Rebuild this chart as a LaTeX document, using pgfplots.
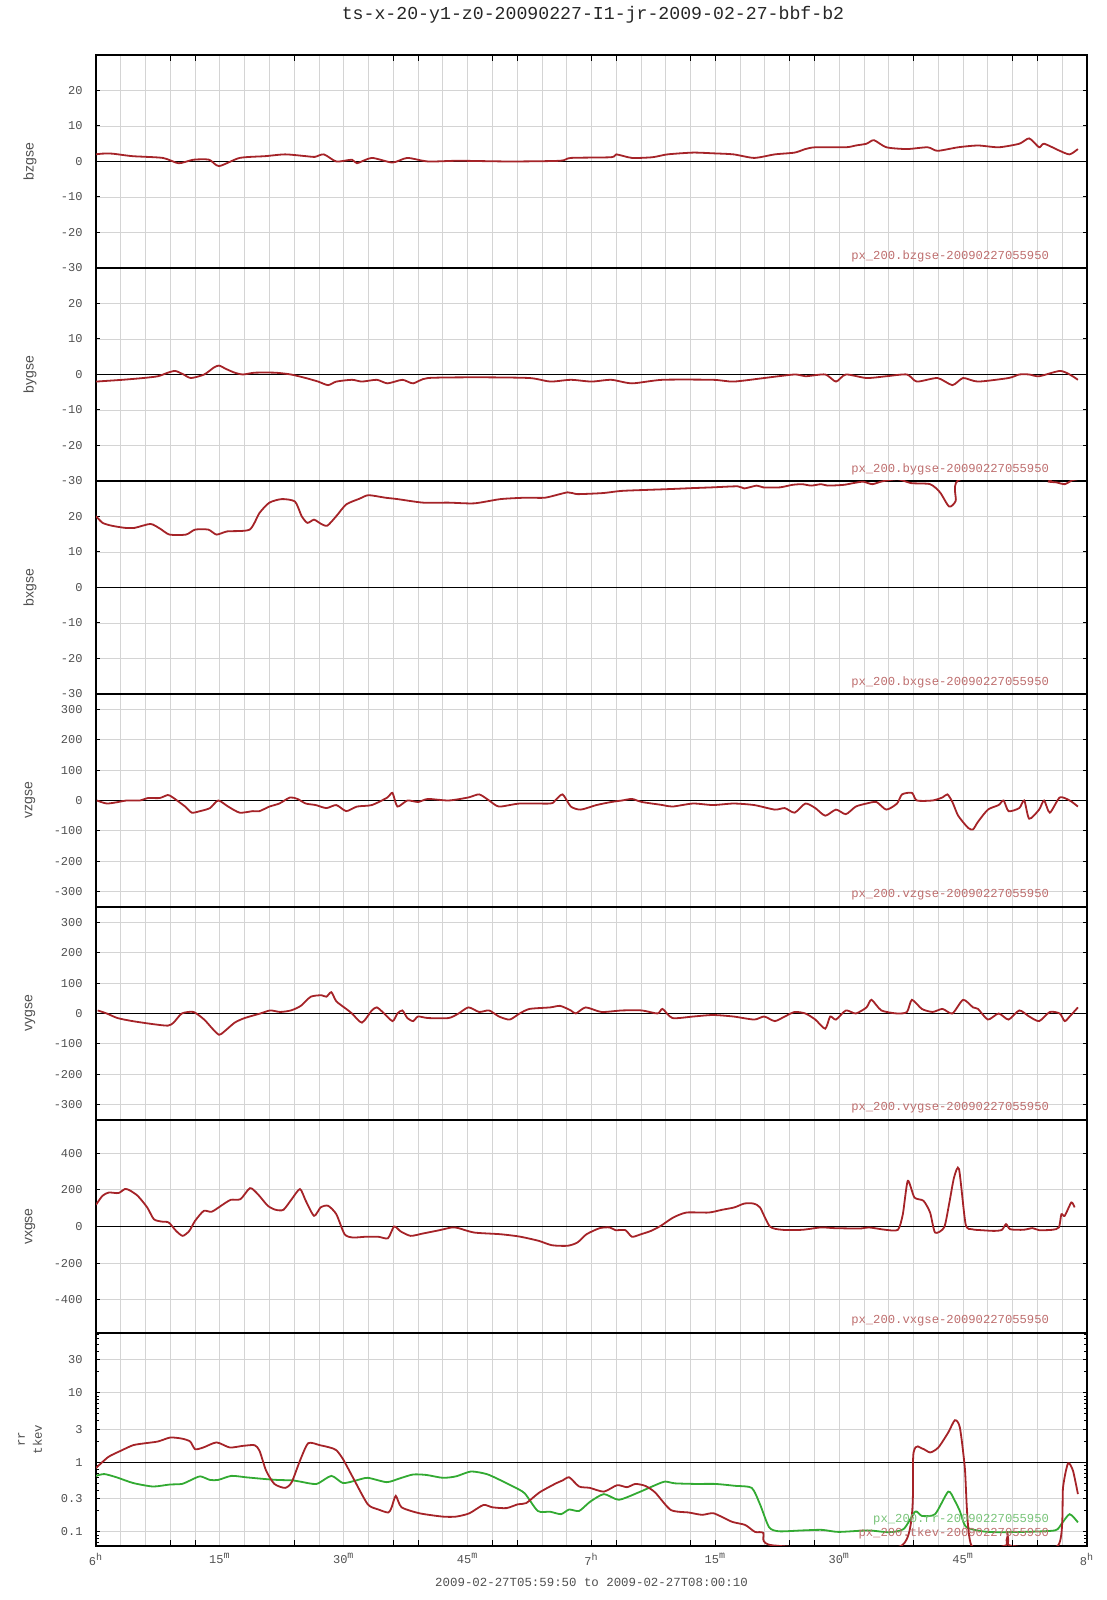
\documentclass[border=0pt]{standalone}
\usepackage{pgfplots}
\pgfplotsset{compat=1.18}
\usepackage{fontspec}
\newfontfamily\mono{Liberation Mono}
\newfontfamily\sans{Liberation Sans}
\definecolor{cred}{RGB}{165,35,40}
\definecolor{cgreen}{RGB}{50,170,50}
\definecolor{lred}{RGB}{190,110,110}
\definecolor{lgreen}{RGB}{120,195,120}
\definecolor{gridgray}{RGB}{212,212,212}
\definecolor{tickgray}{RGB}{80,80,80}
\pgfplotsset{
 panel/.style={
  scale only axis, width=495.5pt, height=106.5pt, anchor=north west,
  xmin=0, xmax=120, xtick={0,3,...,120}, xticklabels={},
  xtick style={draw=none},
  major tick length=2pt,
  tick style={black, line width=0.5pt},
  xmajorgrids, ymajorgrids,
  major grid style={draw=gridgray, line width=0.45pt},
  axis line style={black, line width=0.6pt},
  yticklabel style={font=\mono\fontsize{6}{7}\selectfont, text=tickgray, inner sep=0pt, xshift=-6.5pt},
  ylabel style={font=\sans\fontsize{7}{8}\selectfont, text=tickgray, at={(axis description cs:-0.0666,0.5)}, anchor=center},
 },
 lin30/.style={ymin=-30, ymax=30, ytick={-30,-20,-10,0,10,20}, yticklabels={-30,-20,-10,0,10,20}},
 lin350/.style={ymin=-350, ymax=350, ytick={-300,-200,-100,0,100,200,300}, yticklabels={-300,-200,-100,0,100,200,300}},
 dline/.style={cred, line width=0.9pt, smooth, tension=0.4},
 zline/.style={black, line width=0.55pt},
}
\newcommand{\leg}[3]{\node[anchor=east, inner sep=0pt, font=\mono\fontsize{6.1}{7}\selectfont, text=#1] at (axis description cs:0.962,#2) {#3};}
\begin{document}
\begin{tikzpicture}
\useasboundingbox (0,0) rectangle (553.5pt,800pt);
\node[font=\mono\fontsize{9.1}{10}\selectfont, text=black!85] at (296.5pt,792.5pt) {ts-x-20-y1-z0-20090227-I1-jr-2009-02-27-bbf-b2};

% panel 1 bzgse
\begin{axis}[panel, lin30, at={(48pt,772.5pt)}, ylabel={bzgse}]
\addplot[zline] coordinates {(0,0) (120,0)};
\addplot[dline] coordinates {(0,2.0)(0.7,2.2)(2.0,2.2)(4.4,1.5)(8.1,1.0)(10.0,-0.5)(11.8,0.5)(13.7,0.5)(14.9,-1.3)(17.4,1.0)(20.5,1.5)(22.9,2.0)(25.4,1.5)(26.5,1.3)(27.6,2.0)(29.1,0)(31.0,0.5)(31.6,-0.5)(33.4,1.0)(35.9,-0.3)(37.7,1.0)(40.2,0)(43.9,0.2)(50.1,0)(56.2,0.2)(57.5,1.0)(62.4,1.2)(63.0,2.0)(64.9,1.0)(67.4,1.2)(69.2,2.0)(72.3,2.5)(74.7,2.3)(77.2,2.0)(79.7,1.0)(82.2,2.0)(84.6,2.5)(85.9,3.5)(87.1,4.0)(90.8,4.0)(92.0,4.5)(93.3,5.0)(94.2,6.0)(95.7,4.0)(98.2,3.5)(100.7,4.0)(101.9,3.0)(104.4,4.0)(106.8,4.5)(109.3,4.0)(111.8,5.0)(113.0,6.5)(114.2,4.0)(114.8,5.0)(116.7,3.0)(117.9,2.0)(118.9,3.5)};
\pgfplotsinvokeforeach{0,9,12,24,36,39,48,51,60,63,72,75,84,87,99,111,114}{\draw[black, line width=0.5pt] (axis cs:#1,30) -- ++(0pt,-2.8pt);}
\leg{lred}{0.056}{px\_200.bzgse-20090227055950}
\end{axis}

% panel 2 bygse
\begin{axis}[panel, lin30, at={(48pt,666pt)}, ylabel={bygse}]
\addplot[zline] coordinates {(0,0) (120,0)};
\addplot[dline] coordinates {(0,-2)(3.2,-1.5)(5.7,-1)(7.5,-0.5)(8.7,0.5)(9.6,1)(10.6,0)(11.5,-1)(13.1,0)(14.3,2)(14.9,2.5)(15.8,1.5)(16.8,0.5)(17.8,0)(19.2,0.5)(21.7,0.5)(23.6,0)(25.4,-1)(26.9,-2)(28.1,-3)(29.1,-2)(31,-1.5)(32.2,-2)(34,-1.5)(35.3,-2.5)(37.1,-1.5)(38.4,-2.5)(40.2,-1)(46.4,-0.8)(52.5,-1)(55,-2)(57.5,-1.5)(60,-2)(62.4,-1.5)(64.9,-2.5)(68.6,-1.5)(74.7,-1.5)(77.2,-2)(80.9,-1)(84.6,0)(85.9,-0.5)(88.3,0)(89.6,-2)(90.8,0)(93.3,-1)(95.7,-0.5)(98.2,0)(99.4,-2)(101.9,-1)(103.7,-3)(105,-1)(106.8,-2)(110.5,-1)(111.8,0)(113,0)(114.2,-0.5)(116.7,1)(117.9,0)(118.9,-1.5)};
\leg{lred}{0.056}{px\_200.bygse-20090227055950}
\end{axis}

% panel 3 bxgse
\begin{axis}[panel, lin30, at={(48pt,559.5pt)}, ylabel={bxgse}]
\addplot[zline] coordinates {(0,0) (120,0)};
\addplot[dline] coordinates {(0,20.1)(0.8,18.2)(1.9,17.4)(3.5,16.8)(4.7,16.8)(6.6,17.9)(7.8,16.5)(8.9,14.9)(10.9,14.9)(12.0,16.3)(13.6,16.3)(14.6,14.9)(15.9,15.8)(18.6,16.3)(19.8,21.0)(21,23.9)(22.5,24.9)(24.1,24.2)(24.9,20.1)(25.6,18.2)(26.4,19.1)(27.2,18)(28,17.4)(29.1,20.1)(30.3,23.4)(31.9,25.0)(33,26.0)(35,25.3)(36.5,24.9)(39.6,23.9)(42.7,23.9)(45.8,23.7)(49,24.9)(52.1,25.3)(54.4,25.3)(57.1,26.8)(58.3,26.3)(61.4,26.6)(63.6,27.2)(66.8,27.5)(69.2,27.7)(72.3,28.0)(74.6,28.2)(77.7,28.5)(78.5,27.9)(80,28.7)(80.8,28.2)(82.8,28.2)(84.3,28.9)(85.5,29.1)(86.6,28.7)(87.8,29.1)(88.6,28.7)(90.5,28.9)(91.7,29.4)(92.9,29.8)(94,29.1)(95.2,29.9)(97.1,30.5)(98.7,29.4)(101,29.1)(102.2,26.8)(103.3,22.8)(104.1,24.4)(104.7,30.5)(115,30.5)(115.4,29.8)(116.3,29.6)(117.3,29.1)(118.2,30.2)(118.9,30.5)};
\leg{lred}{0.056}{px\_200.bxgse-20090227055950}
\end{axis}

% panel 4 vzgse
\begin{axis}[panel, lin350, at={(48pt,453pt)}, ylabel={vzgse}]
\addplot[zline] coordinates {(0,0) (120,0)};
\addplot[dline] coordinates {(0.1,0)(1.3,-10)(2.7,-5)(3.7,0)(5.3,0)(6.3,8)(7.7,8)(8.7,18)(9.3,10)(10.8,-20)(11.6,-40)(12.6,-35)(13.8,-25)(14.8,0)(16,-20)(17.4,-40)(19,-35)(19.8,-35)(21,-20)(22.2,-10)(23.5,10)(24.4,5)(25.4,-10)(26.6,-15)(27.9,-25)(29.1,-15)(30.3,-35)(31.6,-20)(33.4,-15)(35.3,10)(35.9,25)(36.5,-20)(37.7,0)(39,-5)(40.2,5)(42.7,0)(45.1,10)(46.4,20)(47.6,0)(48.8,-20)(51.3,-10)(55,-10)(55.6,0)(56.5,20)(57.5,-20)(58.7,-30)(60.6,-15)(62.4,-5)(63.7,0)(64.9,5)(66.1,-5)(68.6,-15)(69.8,-20)(72.3,-10)(74.7,-15)(77.2,-10)(79.7,-15)(82.2,-30)(83.4,-25)(84.6,-40)(85.9,-10)(87.1,-25)(88.3,-50)(89.6,-30)(90.8,-45)(92,-20)(93.3,-10)(94.5,-5)(95.7,-30)(97,-10)(97.6,20)(98.8,25)(99.4,0)(101.3,0)(102.5,10)(103.1,20)(103.7,-5)(104.4,-50)(105.6,-90)(106.2,-95)(106.8,-70)(108,-30)(109.3,-15)(109.9,0)(110.5,-35)(111.8,-25)(112.4,0)(113,-60)(114.2,-30)(114.8,0)(115.5,-40)(116.7,10)(117.9,0)(118.9,-20)};
\leg{lred}{0.056}{px\_200.vzgse-20090227055950}
\end{axis}

% panel 5 vygse
\begin{axis}[panel, lin350, at={(48pt,346.5pt)}, ylabel={vygse}]
\addplot[zline] coordinates {(0,0) (120,0)};
\addplot[dline] coordinates {(0.2,10)(1.3,0)(2.6,-15)(4.4,-25)(6.9,-35)(8.7,-40)(9.4,-30)(10.4,0)(11.8,5)(13.1,-20)(14.1,-50)(14.9,-70)(15.5,-60)(16.8,-30)(18,-15)(19.9,0)(21.1,10)(22.3,5)(23.6,10)(24.8,25)(26,55)(27.3,60)(27.9,55)(28.5,70)(29.1,40)(30.3,15)(31,0)(32.2,-30)(33.4,10)(34,20)(34.7,5)(35.9,-25)(36.5,0)(37.1,10)(37.7,-15)(38.4,-25)(39,-10)(40.2,-15)(42.7,-15)(43.9,0)(45.1,20)(46.4,5)(47.6,10)(48.8,-10)(50.1,-20)(51.3,0)(52.5,15)(55,20)(56.2,25)(57.5,10)(58.1,0)(59.3,20)(61.2,5)(63.7,10)(66.1,10)(68,0)(68.6,15)(69.8,-15)(72.3,-10)(74.7,-5)(77.2,-10)(79.7,-20)(80.9,-10)(82.2,-25)(83.4,-10)(84.6,5)(85.9,0)(87.1,-20)(88.3,-50)(88.9,-10)(89.6,-20)(90.8,10)(92,0)(93.3,20)(93.9,45)(95.1,10)(97,0)(98.2,5)(98.8,45)(100,15)(101.3,5)(102.5,15)(103.7,0)(105,45)(106.2,20)(106.8,15)(108,-20)(109.3,0)(110.5,-20)(111.8,10)(113,-10)(114.2,-25)(115.5,5)(116.7,0)(117.3,-25)(117.9,-10)(118.9,20)};
\draw[black, line width=1.2pt] (rel axis cs:0,1) -- (rel axis cs:1,1);
\leg{lred}{0.056}{px\_200.vygse-20090227055950}
\end{axis}

% panel 6 vxgse
\begin{axis}[panel, at={(48pt,240pt)}, ylabel={vxgse}, ymin=-580, ymax=580,
  ytick={-400,-200,0,200,400}, yticklabels={-400,-200,0,200,400}]
\addplot[zline] coordinates {(0,0) (120,0)};
\addplot[dline] coordinates {(0,118)(0.78,167)(1.55,185)(2.72,182)(3.5,204)(4.04,198)(5.05,167)(6.2,104)(7.0,40)(7.9,27)(8.8,22)(9.7,-24)(10.5,-51)(11.3,-24)(12.0,31)(13.05,85)(14.0,80)(15.15,113)(16.3,145)(17.5,149)(18.65,209)(19.6,176)(20.8,113)(21.75,91)(22.7,91)(23.7,149)(24.7,204)(25.4,140)(26.4,58)(27.2,104)(28.1,113)(29.1,67)(30.1,-42)(31.1,-60)(32.6,-56)(34.2,-56)(35.35,-64)(36.1,0)(36.9,-27)(38.1,-51)(39.6,-38)(41.6,-20)(43.1,-5)(43.9,-9)(45.8,-33)(48.95,-42)(51.3,-55)(53.6,-78)(55.2,-102)(57.1,-105)(58.3,-87)(59.4,-42)(61.0,-9)(62.2,-5)(62.9,-20)(64.1,-20)(64.9,-56)(66.0,-42)(67.2,-24)(68.4,4)(69.9,49)(71.5,76)(74.2,76)(75.8,91)(77.3,104)(78.5,125)(79.6,125)(80.4,104)(81.6,0)(83.1,-18)(85.5,-18)(87.8,-5)(89.4,-9)(92.5,-11)(93.6,-5)(95.6,-18)(97.1,-18)(97.7,67)(98.3,249)(99.1,158)(100.2,140)(101.0,76)(101.6,-33)(102.7,-5)(103.3,122)(103.9,267)(104.5,313)(105.3,13)(106.1,-15)(107.2,-20)(108.8,-24)(109.7,-18)(110.2,13)(110.7,-15)(112.3,-18)(113.4,-9)(114.2,-20)(115.8,-18)(116.6,-5)(116.9,67)(117.3,58)(118.1,131)(118.5,104)};
\leg{lred}{0.056}{px\_200.vxgse-20090227055950}
\end{axis}

% panel 7 rr / tkev
\begin{axis}[panel, at={(48pt,133.5pt)}, ymode=log, ymin=0.0627, ymax=72.8,
  ytick={0.1,0.3,1,3,10,30}, yticklabels={0.1,0.3,1,3,10,30},
  minor ytick={0.07,0.08,0.09,0.2,0.4,0.5,0.6,0.7,0.8,0.9,2,4,5,6,7,8,9,20,40,50,60,70},
  minor tick length=1.5pt,
  ylabel={rr\\tkev}, ylabel style={font=\mono\fontsize{6.2}{8.5}\selectfont, align=center},
  xticklabels={6\textsuperscript{h},,,,,15\textsuperscript{m},,,,,30\textsuperscript{m},,,,,45\textsuperscript{m},,,,,7\textsuperscript{h},,,,,15\textsuperscript{m},,,,,30\textsuperscript{m},,,,,45\textsuperscript{m},,,,,8\textsuperscript{h}},
  xticklabel style={font=\mono\fontsize{6}{7}\selectfont, text=tickgray, inner sep=0pt, anchor=north, yshift=-3.5pt},
  xlabel={2009-02-27T05:59:50 to 2009-02-27T08:00:10},
  xlabel style={font=\mono\fontsize{6.2}{7}\selectfont, text=tickgray, at={(axis description cs:0.5,0)}, anchor=center, yshift=-18pt}]
\addplot[zline] coordinates {(0,1) (120,1)};
\addplot[cgreen, line width=0.9pt, smooth, tension=0.4] coordinates {(0,0.64)(1,0.68)(2.5,0.61)(4.5,0.505)(6.9,0.45)(8.9,0.48)(10.4,0.49)(11.4,0.55)(12.6,0.63)(13.8,0.56)(14.8,0.56)(16.4,0.64)(18.2,0.61)(20.2,0.58)(21.9,0.56)(23.9,0.55)(24.7,0.53)(26.7,0.49)(28.5,0.64)(29.9,0.505)(31.5,0.55)(32.9,0.6)(35.2,0.52)(36.8,0.59)(38.4,0.67)(40,0.66)(42,0.6)(43.6,0.63)(45.4,0.74)(47.3,0.68)(48.9,0.56)(50.5,0.45)(51.9,0.36)(53.5,0.2)(55,0.195)(56.3,0.18)(57.3,0.21)(58.5,0.2)(59.8,0.27)(61.5,0.35)(63.3,0.29)(65.7,0.37)(67.7,0.47)(68.9,0.53)(70.1,0.5)(72.6,0.49)(75,0.49)(77.4,0.46)(79.4,0.43)(80.4,0.25)(81.5,0.117)(82.7,0.102)(85.5,0.105)(87.9,0.107)(89.9,0.1)(93.5,0.105)(96,0.099)(97.8,0.11)(99.2,0.196)(100,0.17)(101.6,0.18)(103.2,0.38)(104,0.28)(104.6,0.2)(105.4,0.117)(108,0.1)(112.1,0.1)(116.1,0.105)(116.9,0.13)(117.9,0.18)(118.9,0.137)};
\addplot[dline] coordinates {(0,0.83)(1.5,1.2)(3,1.47)(4.5,1.77)(6,1.89)(7.5,2.0)(9,2.28)(10.4,2.2)(11.4,2.0)(12,1.55)(13,1.64)(14.6,1.94)(16.2,1.64)(17.8,1.73)(19.2,1.77)(19.8,1.47)(20.6,0.76)(21.6,0.49)(22.9,0.43)(23.7,0.52)(24.7,1.06)(25.7,1.89)(27.1,1.77)(28.3,1.64)(29.1,1.5)(29.9,1.12)(31.1,0.61)(32.9,0.25)(34.2,0.21)(35.4,0.19)(35.8,0.226)(36.3,0.33)(37,0.226)(39.2,0.185)(42,0.166)(43.6,0.166)(45.2,0.185)(46.9,0.244)(48,0.226)(49.7,0.22)(51.1,0.25)(52.1,0.26)(53.7,0.37)(55.7,0.5)(56.5,0.55)(57.3,0.61)(58.5,0.45)(59.8,0.43)(61.5,0.38)(63.1,0.47)(64.3,0.44)(65.3,0.49)(66.5,0.46)(67.7,0.37)(69.6,0.207)(71.8,0.19)(73.4,0.176)(74.8,0.185)(77,0.14)(78.6,0.126)(79.8,0.1)(80.8,0.097)(82,0.064)(97.6,0.064)(99,1.39)(100,1.59)(101,1.39)(102,1.64)(103.2,2.7)(104,4.05)(104.6,3.2)(105.2,0.85)(106,0.064)(110.2,0.064)(110.4,0.089)(110.6,0.064)(116.5,0.064)(117.1,0.44)(117.7,0.97)(118.3,0.76)(118.9,0.35)};
\pgfplotsinvokeforeach{0,9,12,24,36,39,48,51,60,63,72,75,84,87,99,111,114}{\draw[black, line width=0.5pt] (axis cs:#1,0.0627) -- ++(0pt,2.8pt);}
\leg{lgreen}{0.122}{px\_200.rr-20090227055950}
\leg{lred}{0.061}{px\_200.tkev-20090227055950}
\end{axis}
\end{tikzpicture}
\end{document}
